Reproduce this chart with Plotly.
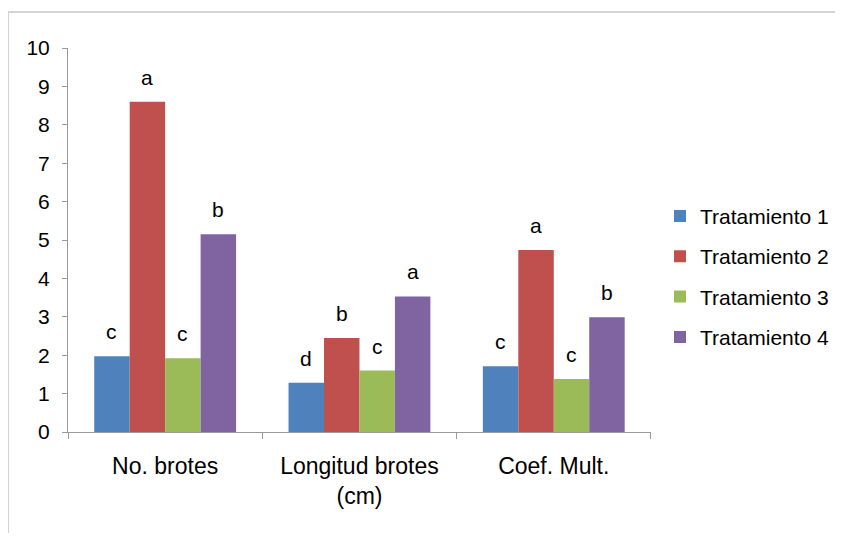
import plotly.graph_objects as go

categories = ["No. brotes", "Longitud brotes<br>(cm)", "Coef. Mult."]
series_names = ["Tratamiento 1", "Tratamiento 2", "Tratamiento 3", "Tratamiento 4"]
t1 = [1.97, 1.28, 1.71]
t2 = [8.60, 2.45, 4.74]
t3 = [1.92, 1.60, 1.38]
t4 = [5.15, 3.53, 2.99]
letters_t1 = ["c", "d", "c"]
letters_t2 = ["a", "b", "a"]
letters_t3 = ["c", "c", "c"]
letters_t4 = ["b", "a", "b"]
y_ticks = list(range(0, 11))

values = [t1, t2, t3, t4]
letters = [letters_t1, letters_t2, letters_t3, letters_t4]
colors = ["#4F81BD", "#C0504D", "#9BBB59", "#8064A2"]

FONT = "Liberation Sans, Arial, sans-serif"
bargap = 0.27
nser = len(series_names)
bw = (1 - bargap) / nser

fig = go.Figure()
for j, (name, vals, col) in enumerate(zip(series_names, values, colors)):
    fig.add_trace(go.Bar(
        x=categories, y=vals, name=name, marker=dict(color=col, line=dict(width=0)),
        legendgroup=name,
    ))

annotations = []
for j in range(nser):
    for i in range(len(categories)):
        annotations.append(dict(
            x=i + (j - (nser - 1) / 2) * bw, y=values[j][i], xref="x", yref="y",
            text=letters[j][i], showarrow=False, yanchor="bottom", yshift=11,
            font=dict(family=FONT, size=21, color="#000000"),
        ))

shapes = [
    dict(type="line", xref="paper", yref="paper", x0=-0.0782, x1=1.1, y0=1.094, y1=1.094,
         line=dict(color="#d4d4d4", width=2)),
    dict(type="line", xref="paper", yref="paper", x0=-0.0782, x1=-0.0782, y0=1.094, y1=-0.35,
         line=dict(color="#d4d4d4", width=2)),
]

fig.update_layout(
    width=827, height=525,
    margin=dict(l=60, r=0, t=40, b=101),
    paper_bgcolor="white", plot_bgcolor="white",
    barmode="group", bargap=bargap, bargroupgap=0,
    font=dict(family=FONT, size=20, color="#000000"),
    showlegend=True,
    legend=dict(x=1.0, y=0.615, xanchor="right", yanchor="top",
                font=dict(family=FONT, size=21, color="#000000"),
                tracegroupgap=10, itemwidth=30, bgcolor="rgba(0,0,0,0)"),
    annotations=annotations,
    shapes=shapes,
)
fig.update_xaxes(
    domain=[0, 0.760],
    showline=True, linecolor="#9a9a9a", linewidth=1,
    ticks="outside", tickson="boundaries", ticklen=6, tickcolor="#9a9a9a",
    showgrid=False, ticklabelstandoff=13,
    tickfont=dict(family=FONT, size=23, color="#000000"),
)
fig.update_yaxes(
    range=[0, 10], tickvals=y_ticks, showline=True, linecolor="#9a9a9a", linewidth=1,
    ticks="outside", ticklen=5, tickcolor="#9a9a9a", showgrid=False, zeroline=False,
    ticklabelstandoff=8,
    tickfont=dict(family=FONT, size=21, color="#000000"),
)
fig.write_html("out.html")
